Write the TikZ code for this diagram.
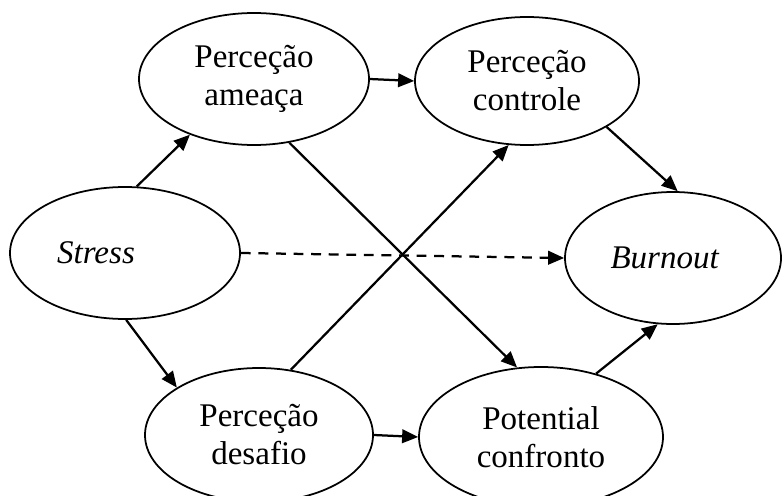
\documentclass[tikz,border=0pt]{standalone}
\usepackage{fontspec}
\setmainfont{Liberation Serif}
\usetikzlibrary{shapes.geometric,arrows.meta}

\begin{document}
\begin{tikzpicture}[
        elipse/.style = {draw, ellipse, line width = 1.25pt, inner sep = 0pt, align = center, font = \fontsize{23.5}{27}\selectfont},
        seta/.style = {line width = 1.6pt, -{Triangle[length = 0.4cm, width = 0.34cm]}},
    ]
        \useasboundingbox (0, 0) rectangle (19.55, 12.375);
        \node[elipse, minimum width = 5.75cm, minimum height = 3.3cm] (stress) at (3.125, 6.05) {\textit{Stress}\hspace*{1.45cm}};
        \node[elipse, minimum width = 5.75cm, minimum height = 3.3cm] (ameaca) at (6.35, 10.4) {Perceção\\ameaça};
        \node[elipse, minimum width = 5.6cm, minimum height = 3.2cm] (controle) at (13.175, 10.35) {Perceção\\controle};
        \node[elipse, minimum width = 5.4cm, minimum height = 3.3cm] (burnout) at (16.825, 5.925) {\textit{Burnout}\hspace*{0.4cm}};
        \node[elipse, minimum width = 5.7cm, minimum height = 3.35cm] (desafio) at (6.475, 1.5) {Perceção\\desafio};
        \node[elipse, minimum width = 6.1cm, minimum height = 3.5cm] (confronto) at (13.525, 1.45) {Potential\\confronto};
        \draw[seta] (stress.80) -- (ameaca.221);
        \draw[seta] (stress.271) -- (desafio.150);
        \draw[seta, dash pattern = on 7pt off 5.5pt] (stress.east) -- (burnout.west);
        \draw[seta] (ameaca.east) -- (controle.west);
        \draw[seta] (ameaca.299) -- (confronto.109);
        \draw[seta] (desafio.64) -- (controle.254);
        \draw[seta] (desafio.east) -- (confronto.west);
        \draw[seta] (controle.330) -- (burnout.86);
        \draw[seta] (confronto.49) -- (burnout.257);
    \end{tikzpicture}
\end{document}
